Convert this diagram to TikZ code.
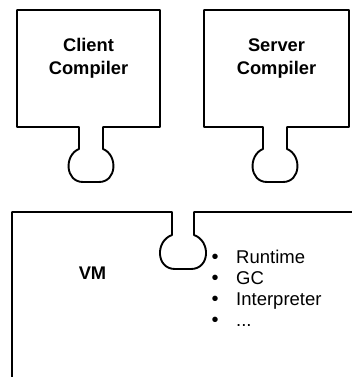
\documentclass[tikz,border=0pt]{standalone}
\usepackage{fontspec}
\setmainfont{Liberation Sans}
\begin{document}
\begin{tikzpicture}[x=1pt,y=-1pt,
  outline/.style={draw=black, line width=1.9pt, line join=round},
  title/.style={font=\fontsize{18.3}{21}\selectfont\bfseries, anchor=base, inner sep=0pt},
  item/.style={font=\fontsize{18.5}{21}\selectfont, anchor=base west, inner sep=0pt},
  bul/.style={font=\fontsize{20}{21}\selectfont, anchor=base, inner sep=0pt}]
\useasboundingbox (0,0) rectangle (351,377);
% Client compiler
\draw[outline] (17,10) -- (160,10) -- (160,127) -- (103,127) -- (103,149)
  .. controls (118,155) and (117,182) .. (99,182) -- (83,182)
  .. controls (65,182) and (64,155) .. (79,149) -- (79,127) -- (17,127) -- cycle;
% Server compiler
\draw[outline] (204,10) -- (349,10) -- (349,127) -- (287,127) -- (287,149)
  .. controls (302,155) and (301,182) .. (283,182) -- (267,182)
  .. controls (249,182) and (248,155) .. (263,149) -- (263,127) -- (204,127) -- cycle;
% VM
\draw[outline] (12,380) -- (12,212) -- (172,212) -- (172,235)
  .. controls (155,241) and (156,269) .. (175,269) -- (191,269)
  .. controls (210,269) and (211,241) .. (194,235) -- (194,212) -- (354,212);
% texts
\node[title] (client1) at (88.5,51.7) {Client};
\node[title] (client2) at (88.5,75) {Compiler};
\node[title] (server1) at (276.5,51.7) {Server};
\node[title] (server2) at (276.5,75) {Compiler};
\node[title] (vm) at (92.5,279.3) {VM};
\node[bul] (b1) at (215,263.3) {•};
\node[bul] (b2) at (215,284) {•};
\node[bul] (b3) at (215,305) {•};
\node[bul] (b4) at (215,326.7) {•};
\node[item] (i1) at (236,263.3) {Runtime};
\node[item] (i2) at (236,284) {GC};
\node[item] (i3) at (236,305) {Interpreter};
\node[item] (i4) at (236,326.7) {...};
\end{tikzpicture}
\end{document}
